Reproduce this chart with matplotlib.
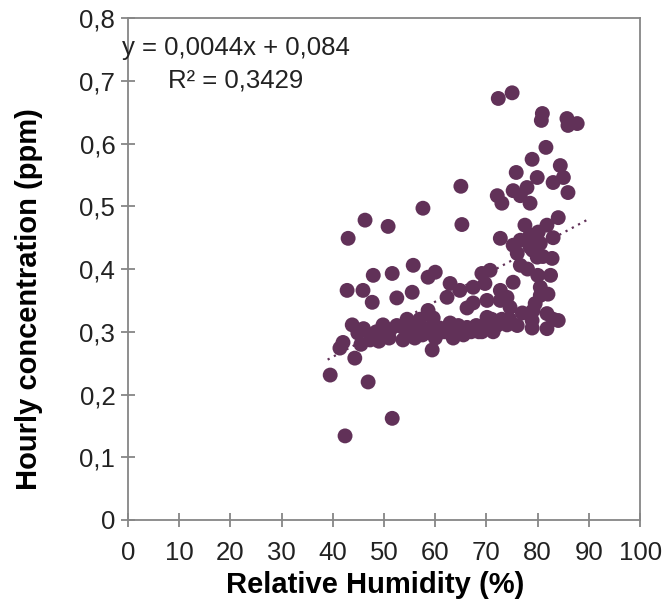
import matplotlib.pyplot as plt
from matplotlib.ticker import FuncFormatter
import numpy as np

plt.rcParams['font.family'] = ['Liberation Sans', 'DejaVu Sans']

# relative humidity (%) and hourly concentration (ppm)
rh = [72.3, 75.0, 80.9, 80.7, 85.7, 87.7, 85.9, 81.6, 78.9, 75.8,
      84.4, 79.9, 85.0, 75.2, 77.9, 83.0, 85.9, 72.1, 73.0, 78.5,
      76.6, 65.0, 57.6, 46.3, 50.8, 43.0, 65.2, 84.0, 81.8, 80.1,
      78.5, 76.6, 75.2, 72.7, 76.0, 79.9, 82.8, 76.6, 78.5, 80.5,
      83.0, 69.1, 70.7, 75.2, 80.5, 80.5, 79.1, 81.8, 84.0, 78.9,
      60.0, 58.6, 55.7, 51.6, 47.9, 42.8, 45.9, 62.9, 64.8, 67.4,
      69.7, 72.7, 74.0, 52.5, 55.5, 47.7, 62.3, 70.1, 81.8, 78.9,
      43.8, 42.0, 41.4, 44.9, 47.3, 49.8, 51.2, 53.7, 53.7, 56.4,
      58.6, 59.6, 60.9, 63.5, 62.9, 66.2, 66.2, 69.1, 71.3, 70.1,
      74.0, 74.6, 67.4, 72.7, 44.3, 39.5, 46.9, 59.4, 51.6, 42.4,
      46.0, 48.5, 50.5, 52.5, 55.0, 57.5, 58.0, 61.5, 64.5, 65.5,
      68.0, 72.0, 73.0, 57.0, 54.5, 45.5, 49.0, 51.0, 56.0, 60.0,
      62.0, 67.0, 70.0, 76.0, 77.0, 79.5, 83.0, 82.0, 80.0, 78.0,
      82.5, 79.0, 81.0, 77.5, 74.5, 71.0, 68.5, 63.0, 59.0, 50.0]
conc = [0.672, 0.681, 0.648, 0.637, 0.640, 0.632, 0.629, 0.594, 0.575, 0.554,
        0.565, 0.546, 0.546, 0.525, 0.530, 0.538, 0.522, 0.517, 0.505, 0.505,
        0.517, 0.532, 0.497, 0.478, 0.468, 0.449, 0.471, 0.482, 0.470, 0.459,
        0.454, 0.446, 0.438, 0.449, 0.425, 0.419, 0.417, 0.406, 0.435, 0.441,
        0.450, 0.393, 0.398, 0.379, 0.371, 0.358, 0.334, 0.329, 0.318, 0.318,
        0.395, 0.387, 0.406, 0.393, 0.390, 0.366, 0.366, 0.377, 0.366, 0.371,
        0.377, 0.366, 0.355, 0.354, 0.363, 0.347, 0.355, 0.350, 0.305, 0.306,
        0.311, 0.283, 0.274, 0.298, 0.287, 0.311, 0.303, 0.287, 0.307, 0.311,
        0.334, 0.322, 0.306, 0.290, 0.314, 0.307, 0.338, 0.300, 0.300, 0.323,
        0.311, 0.339, 0.346, 0.350, 0.258, 0.231, 0.220, 0.271, 0.162, 0.134,
        0.305, 0.300, 0.295, 0.310, 0.300, 0.295, 0.305, 0.300, 0.310, 0.295,
        0.310, 0.310, 0.320, 0.320, 0.320, 0.280, 0.285, 0.290, 0.290, 0.290,
        0.300, 0.300, 0.310, 0.310, 0.330, 0.345, 0.320, 0.360, 0.390, 0.400,
        0.390, 0.430, 0.420, 0.470, 0.320, 0.320, 0.300, 0.300, 0.300, 0.300]

# linear trend shown on the chart
slope = 0.0044
intercept = 0.084
trend_x = [39, 90]

point_color = '#613158'
axis_color = '#868686'

fig = plt.figure(figsize=(6.69, 6.06), dpi=100)
ax = fig.add_axes([0.191, 0.142, 0.766, 0.828])

ax.scatter(rh, conc, s=115, color=point_color, edgecolors='none', zorder=3)
tx = np.array(trend_x)
ax.plot(tx, slope * tx + intercept, linestyle=(0, (1, 2.2)), color=point_color,
        linewidth=1.6, zorder=4)

ax.set_xlim(0, 100)
ax.set_ylim(0, 0.8)
ax.set_xticks(np.arange(0, 101, 10))
ax.set_yticks(np.arange(0, 0.81, 0.1))
ax.yaxis.set_major_formatter(FuncFormatter(
    lambda v, p: '0' if abs(v) < 1e-9 else ('%.1f' % v).replace('.', ',')))

for sp in ax.spines.values():
    sp.set_color(axis_color)
    sp.set_linewidth(1.3)
ax.tick_params(direction='inout', length=10, width=1.3, color=axis_color,
               labelsize=18.5, labelcolor='#222222')
ax.tick_params(axis='x', pad=10)
ax.tick_params(axis='y', pad=4)

ax.set_xlabel('Relative Humidity (%)', fontsize=21, fontweight='bold')
ax.set_ylabel('Hourly concentration (ppm)', fontsize=21, fontweight='bold')
ax.xaxis.set_label_coords(0.482, -0.102)
ax.yaxis.set_label_coords(-0.166, 0.44)

# trendline label, both lines centred like the spreadsheet box
ax.text(21.1, 0.753, 'y = 0,0044x + 0,084', fontsize=18.5, color='#222222',
        ha='center', va='center')
ax.text(21.1, 0.70, 'R² = 0,3429', fontsize=18.5, color='#222222',
        ha='center', va='center')

fig.savefig('out.png', dpi=100)
